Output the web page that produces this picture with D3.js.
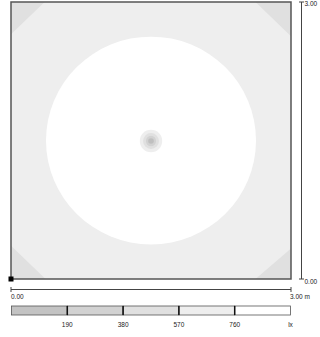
<!DOCTYPE html>
<html><head><meta charset="utf-8">
<script src="https://cdn.jsdelivr.net/npm/d3@7"></script>
<style>body{margin:0;background:#fff;}svg{display:block;font-family:"Liberation Sans",Arial,sans-serif;}</style>
</head><body><svg id="c" width="320" height="337"></svg>
<script>
// Room extent (m)
const roomSize = [0, 3];
// Legend thresholds (lx) and bin colours
const thresholds = [190, 380, 570, 760];
const binColors = ["#c3c3c3", "#d2d2d2", "#e0e0e0", "#eeeeee", "#ffffff"];
const unit = "lx";
// Isolux regions: big bright circle around the luminaire (m)
const circleCenter = [1.5, 1.5];
const circleRadius = 1.125;
// Corner triangles (bin 380-570): corner x, corner y, leg dx, leg dy
const corners = [[0, 3, 0.36, -0.35], [3, 3, -0.38, -0.37], [0, 0, 0.37, 0.36], [3, 0, -0.38, 0.33]];
// Centre spot rings: radius (m) and bin index
const spotRadii = [0.12, 0.085, 0.055, 0.03];
const spotBins = [3, 2, 1, 1];

const svg = d3.select("#c");
const x = d3.scaleLinear().domain(roomSize).range([11, 291]);
const y = d3.scaleLinear().domain(roomSize).range([279, 2]);

const defs = svg.append("defs");
defs.append("filter").attr("id", "blur").append("feGaussianBlur").attr("stdDeviation", 0.7);
defs.append("clipPath").attr("id", "clip").append("rect")
  .attr("x", x(0)).attr("y", y(3)).attr("width", x(3) - x(0)).attr("height", y(0) - y(3));

const g = svg.append("g").attr("clip-path", "url(#clip)");
g.append("rect").attr("x", x(0)).attr("y", y(3)).attr("width", x(3) - x(0)).attr("height", y(0) - y(3))
  .attr("fill", binColors[3]);
g.selectAll("path.corner").data(corners).join("path").attr("class", "corner")
  .attr("d", d => `M${x(d[0])},${y(d[1])}L${x(d[0] + d[2])},${y(d[1])}L${x(d[0])},${y(d[1] + d[3])}Z`)
  .attr("fill", binColors[2]);
g.append("ellipse").attr("cx", x(circleCenter[0])).attr("cy", y(circleCenter[1]))
  .attr("rx", x(circleRadius) - x(0)).attr("ry", y(0) - y(circleRadius)).attr("fill", binColors[4]);
g.append("g").attr("filter", "url(#blur)").selectAll("circle").data(spotRadii).join("circle")
  .attr("cx", x(circleCenter[0])).attr("cy", y(circleCenter[1]) + 0.5)
  .attr("r", d => x(d) - x(0)).attr("fill", (d, i) => binColors[spotBins[i]])
  .attr("fill-opacity", (d, i) => i === 3 ? 0.9 : 1)
  .filter((d, i) => i === 3).attr("fill", "#bdbdbd");

svg.append("rect").attr("x", x(0)).attr("y", y(3)).attr("width", x(3) - x(0)).attr("height", y(0) - y(3))
  .attr("fill", "none").attr("stroke", "#555").attr("stroke-width", 1.5);
svg.append("rect").attr("x", x(0) - 2.5).attr("y", y(0) - 2.5).attr("width", 5).attr("height", 5).attr("fill", "#000");

// bottom axis
const ax = svg.append("g").attr("stroke", "#444").attr("stroke-width", 1);
ax.append("line").attr("x1", x(0)).attr("x2", x(3)).attr("y1", 289.5).attr("y2", 289.5);
ax.selectAll("line.t").data(roomSize).join("line").attr("class", "t")
  .attr("x1", d => x(d)).attr("x2", d => x(d)).attr("y1", 287).attr("y2", 292);
// right axis
const rx = 301.5;
ax.append("line").attr("x1", rx).attr("x2", rx).attr("y1", y(3)).attr("y2", y(0));
ax.selectAll("line.r").data(roomSize).join("line").attr("class", "r")
  .attr("x1", rx - 2.5).attr("x2", rx + 2.5).attr("y1", d => y(d)).attr("y2", d => y(d));

const fmt = d3.format(".2f");
const txt = svg.append("g").attr("font-size", 6.5).attr("fill", "#222");
txt.append("text").attr("x", x(0)).attr("y", 299).text(fmt(0));
txt.append("text").attr("x", x(3) - 1).attr("y", 299).text(fmt(3) + " m");
txt.append("text").attr("x", rx + 3).attr("y", y(3) + 4).text(fmt(3));
txt.append("text").attr("x", rx + 3).attr("y", y(0) + 5).text(fmt(0));

// legend
const lx = d3.scaleLinear().domain([0, 5]).range([11.5, 290.5]);
const lg = svg.append("g");
lg.selectAll("rect").data(binColors).join("rect")
  .attr("x", (d, i) => lx(i)).attr("y", 306).attr("width", lx(1) - lx(0)).attr("height", 9)
  .attr("fill", d => d).attr("stroke", "#555").attr("stroke-width", 0.8);
lg.selectAll("line").data(thresholds).join("line")
  .attr("x1", (d, i) => lx(i + 1)).attr("x2", (d, i) => lx(i + 1)).attr("y1", 306).attr("y2", 315)
  .attr("stroke", "#111").attr("stroke-width", 1.5);
txt.selectAll("text.l").data(thresholds).join("text").attr("class", "l")
  .attr("x", (d, i) => lx(i + 1)).attr("y", 327).attr("text-anchor", "middle").text(d => d);
txt.append("text").attr("x", lx(5)).attr("y", 327).attr("text-anchor", "middle").text(unit);
</script></body></html>
